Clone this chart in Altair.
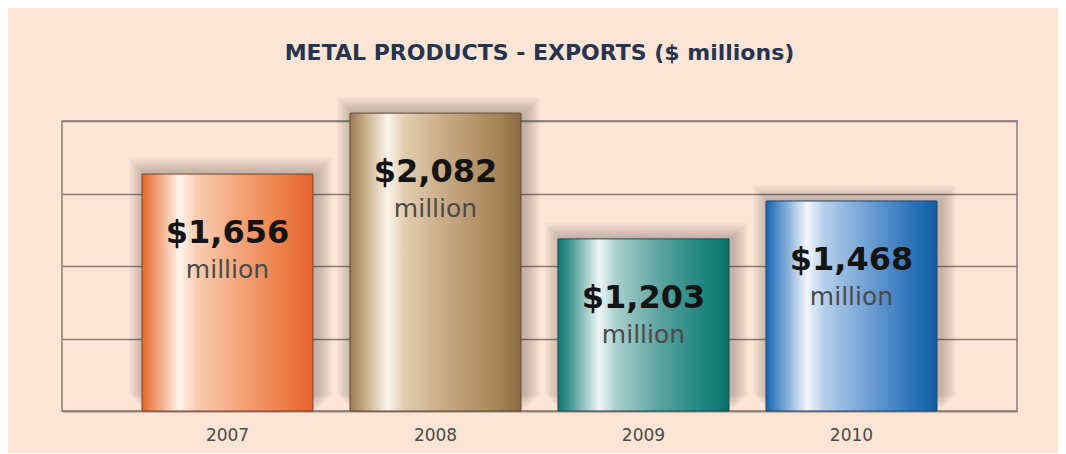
import altair as alt
import pandas as pd

# ---- data ----
years = ["2007", "2008", "2009", "2010"]
values = [1656, 2082, 1203, 1468]
unit_labels = ["million", "million", "million", "million"]
title_text = "METAL PRODUCTS - EXPORTS ($ millions)"

Y_MAX = 2027
grid_values = [Y_MAX * i / 4 for i in range(5)]

df = pd.DataFrame({"year": years, "value": values, "unit": unit_labels})

# ---- styles ----
def grad(stops):
    return alt.LinearGradient(
        gradient="linear",
        stops=[alt.GradientStop(offset=o, color=c) for o, c in stops],
        x1=0, x2=1, y1=0, y2=0,
    )

gradients = {
    "2007": grad([(0, "#e4662f"), (0.08, "#f09a6c"), (0.22, "#fff4ec"), (0.32, "#f9cdb2"),
                  (0.55, "#f3a77e"), (0.85, "#ec7a45"), (1, "#e3612a")]),
    "2008": grad([(0, "#9c7b55"), (0.08, "#c4a882"), (0.22, "#fbf4e8"), (0.32, "#e2cdb0"),
                  (0.55, "#c9ab85"), (0.85, "#a88559"), (1, "#8e6c43")]),
    "2009": grad([(0, "#0d7670"), (0.08, "#4d9d98"), (0.24, "#eef5f5"), (0.34, "#a9cfcd"),
                  (0.6, "#5aa29e"), (0.85, "#1f8580"), (1, "#0a716a")]),
    "2010": grad([(0, "#1865ad"), (0.08, "#5b93cc"), (0.24, "#f3f7fc"), (0.34, "#b6cfea"),
                  (0.6, "#6e9fd3"), (0.85, "#2d74ba"), (1, "#0f5fa6")]),
}
outlines = {"2007": "#7a4430", "2008": "#5e4832", "2009": "#1d4a47", "2010": "#23446a"}

LINE = "#8a7d75"
BAR_W = 171

x_scale = alt.Scale(domain=years, paddingInner=0, paddingOuter=0.2957)
y_scale = alt.Scale(domain=[0, Y_MAX], nice=False, zero=True)

x_enc = alt.X(
    "year:N", scale=x_scale, sort=years,
    axis=alt.Axis(title=None, labelAngle=0, ticks=False, domain=True, domainColor=LINE,
                  domainWidth=1.5, labelFont="DejaVu Sans", labelFontSize=17,
                  labelColor="#4a4a4a", labelPadding=29, labelBaseline="alphabetic",
                  grid=False),
)
y_enc = alt.Y(
    "value:Q", scale=y_scale,
    axis=alt.Axis(values=grid_values, grid=True, labels=False, ticks=False, domain=False,
                  title=None, gridColor=LINE, gridWidth=1.5, gridOpacity=1),
)

layers = []
# soft shadows
for k in (2, 4, 6, 8, 10, 12, 14, 16):
    layers.append(
        alt.Chart(df).mark_bar(color="#333333", opacity=0.04, width=BAR_W + 2 * k,
                               yOffset=-k, xOffset=3)
        .encode(x=x_enc, y=y_enc)
    )
# bars with metallic gradients
for yr in years:
    layers.append(
        alt.Chart(df).transform_filter(alt.datum.year == yr)
        .mark_bar(color=gradients[yr], stroke=outlines[yr], strokeWidth=1, width=BAR_W)
        .encode(x=x_enc, y=y_enc)
    )
# value labels
layers.append(
    alt.Chart(df).transform_calculate(label="'$' + format(datum.value, ',')")
    .mark_text(font="DejaVu Sans", fontWeight="bold", fontSize=32, color="#141414",
               baseline="alphabetic", dy=69)
    .encode(x=x_enc, y=y_enc, text="label:N")
)
layers.append(
    alt.Chart(df)
    .mark_text(font="DejaVu Sans", fontSize=25, color="#4a4a4a",
               baseline="alphabetic", dy=104)
    .encode(x=x_enc, y=y_enc, text="unit:N")
)

chart = (
    alt.layer(*layers)
    .properties(
        width=955, height=290,
        title=alt.TitleParams(title_text, font="DejaVu Sans", fontSize=22, fontWeight="bold",
                              color="#26344f", anchor="middle", frame="group",
                              baseline="alphabetic", offset=15),
        autosize=alt.AutoSizeParams(type="none"),
        padding={"left": 54, "top": 113, "right": 41, "bottom": 42},
        background="#fde5d6",
    )
    .configure_view(stroke=LINE, strokeWidth=1.5)
)

chart.save("out.html", embed_options={"renderer": "svg", "actions": False})
